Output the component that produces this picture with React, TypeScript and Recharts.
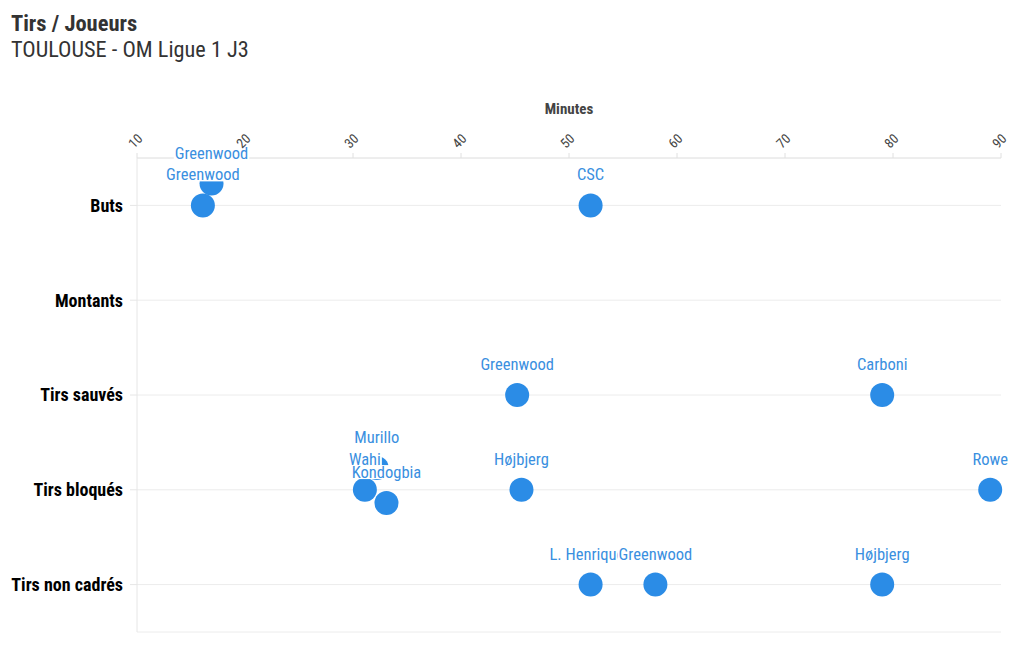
import React from 'react';
import { ScatterChart, Scatter, XAxis, YAxis, CartesianGrid } from 'recharts';

const categories = ['Buts', 'Montants', 'Tirs sauvés', 'Tirs bloqués', 'Tirs non cadrés'];
const minuteTicks = [10, 20, 30, 40, 50, 60, 70, 80, 90];

// one entry per shot: player, minute, shot type (row index + small jitter used by the source chart)
const players = ['Greenwood', 'Greenwood', 'CSC', 'Greenwood', 'Carboni', 'Murillo', 'Kondogbia', 'Wahi', 'Højbjerg', 'Rowe', 'L. Henriques', 'Greenwood', 'Højbjerg'];
const minutes = [16.1, 16.9, 52, 45.2, 79, 32.2, 33.1, 31.1, 45.6, 89, 52, 58, 79];
const rows = [0, -0.23, 0, 2, 2, 2.77, 3.14, 3, 3, 3, 4, 4, 4];

const shots = players.map((p, i) => ({ player: p, minute: minutes[i], row: rows[i] }));

const FONT = "'Roboto Condensed', 'Liberation Sans Narrow', 'Arial Narrow', Roboto, sans-serif";
const BLUE = '#2b8ce6';
const LABEL_BLUE = '#3a8fe0';
const LABEL_SIZE = 16.5;

let ctx: CanvasRenderingContext2D | null = null;
const measure = (txt: string) => {
  if (!ctx) ctx = document.createElement('canvas').getContext('2d');
  if (!ctx) return txt.length * 8;
  ctx.font = `${LABEL_SIZE}px ${FONT}`;
  return ctx.measureText(txt).width;
};

const Dot = (props: any) => <circle cx={props.cx} cy={props.cy} r={12} fill={BLUE} />;

const Label = (props: any) => {
  const { cx, cy, payload } = props;
  const w = measure(payload.player);
  const y = cy - 31;
  return (
    <g>
      <rect x={cx - w / 2 - 1} y={y - 7} width={w + 2} height={14} fill="#fff" />
      <text x={cx} y={y} dy={6} textAnchor="middle" fontSize={LABEL_SIZE} fill={LABEL_BLUE} fontFamily={FONT}>
        {payload.player}
      </text>
    </g>
  );
};

const MinuteTick = ({ x, y, payload }: any) => (
  <text x={x - 3} y={y - 2} transform={`rotate(-45, ${x - 3}, ${y - 2})`} fontSize={13.5} fill="#444" fontFamily={FONT} textAnchor="start">
    {payload.value}
  </text>
);

export default function App() {
  return (
    <div style={{ position: 'absolute', left: 0, top: 0, width: 1020, height: 650, background: '#fff', fontFamily: FONT }}>
      <div style={{ position: 'absolute', left: 11, top: 10, fontSize: 22.5, fontWeight: 700, color: '#333' }}>Tirs / Joueurs</div>
      <div style={{ position: 'absolute', left: 11, top: 36, fontSize: 22.3, color: '#333' }}>TOULOUSE - OM Ligue 1 J3</div>
      <div style={{ position: 'absolute', left: 137, width: 864, top: 100, textAlign: 'center', fontSize: 15, fontWeight: 700, color: '#444' }}>Minutes</div>
      <ScatterChart width={1020} height={650} margin={{ top: 100, right: 19, bottom: 18, left: 0 }}>
        <CartesianGrid horizontal vertical={false} stroke="#ececec" />
        <XAxis
          type="number"
          dataKey="minute"
          orientation="top"
          domain={[10, 90]}
          ticks={minuteTicks}
          height={58}
          axisLine={{ stroke: '#e6e6e6' }}
          tickLine={{ stroke: '#e0e0e0' }}
          tickSize={5}
          tick={<MinuteTick />}
        />
        <YAxis
          type="number"
          dataKey="row"
          domain={[-0.5, 4.5]}
          reversed
          ticks={[0, 1, 2, 3, 4]}
          tickFormatter={(v: number) => categories[v]}
          width={137}
          axisLine={{ stroke: '#e6e6e6' }}
          tickLine={{ stroke: '#e6e6e6' }}
          tickSize={7}
          tickMargin={7}
          tick={{ fontSize: 18, fontWeight: 700, fill: '#000', fontFamily: FONT }}
        />
        <Scatter data={shots} shape={<Dot />} isAnimationActive={false} />
        <Scatter data={shots} shape={<Label />} isAnimationActive={false} />
      </ScatterChart>
    </div>
  );
}
